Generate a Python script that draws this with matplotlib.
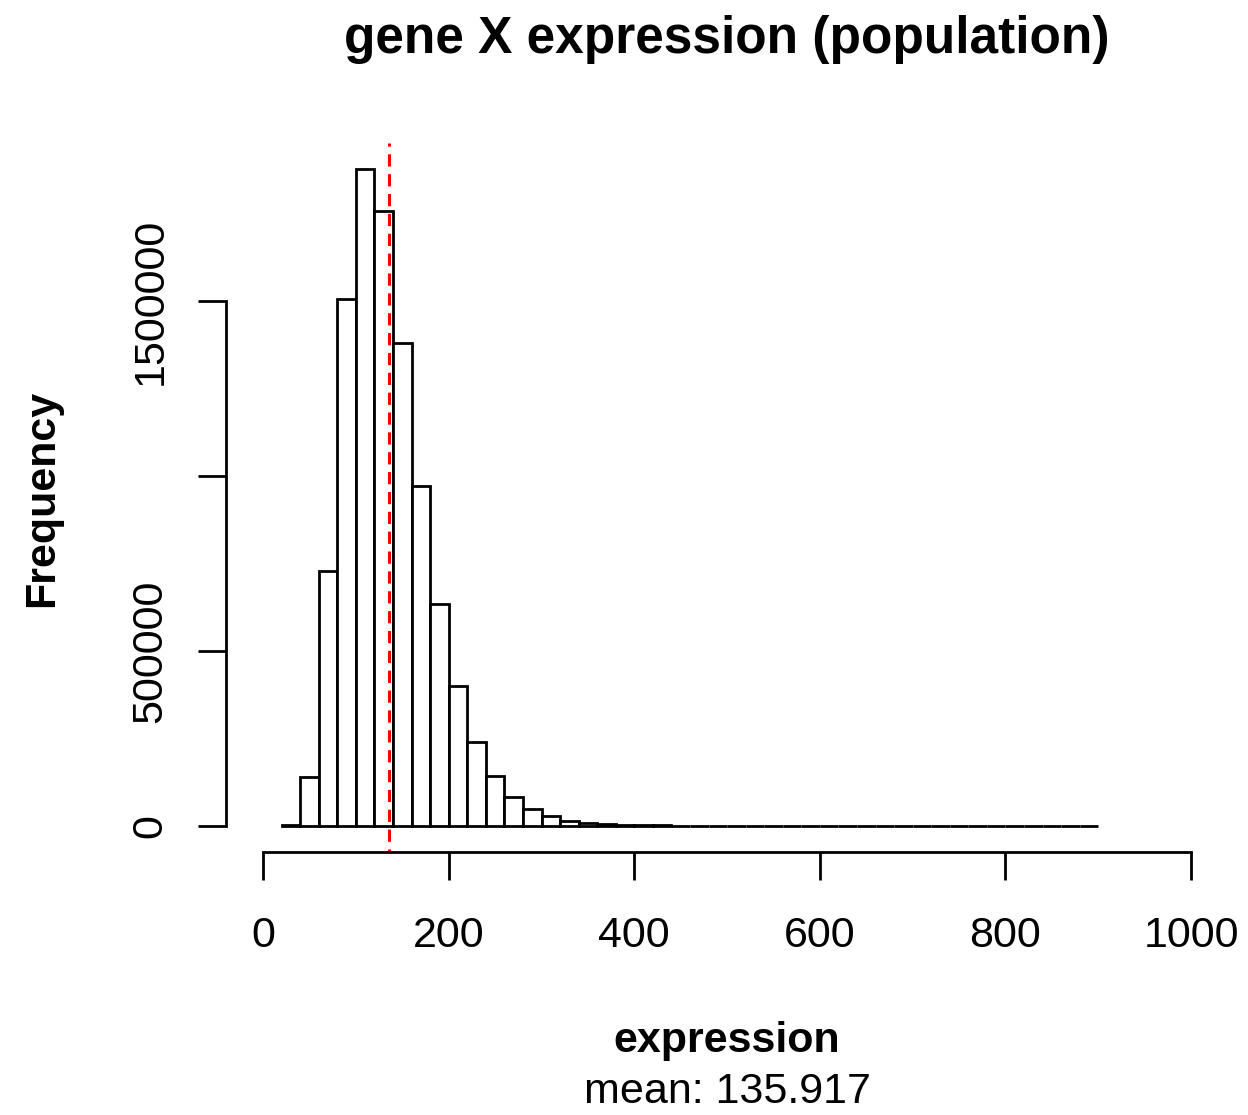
import matplotlib
matplotlib.use("Agg")
import matplotlib.pyplot as plt
import numpy as np

plt.rcParams['font.family'] = ['Liberation Sans', 'DejaVu Sans']

# histogram breaks (20 wide, 20..900) and counts
breaks = np.arange(20, 901, 20)
counts = [3000, 138000, 729000, 1505000, 1877000, 1758000, 1379000, 971000,
          634000, 399000, 240000, 143000, 83000, 49000, 28000, 14000,
          8000, 4500, 2600, 1500, 900, 500, 300, 200, 120, 80, 50,
          30, 20, 15, 10, 8, 6, 5, 4, 3, 3, 2, 2, 2, 1, 1, 1, 1]
mean_val = 135.917
x_ticks = [0, 200, 400, 600, 800, 1000]
y_ticks = [0, 500000, 1000000, 1500000]
y_labels = ["0", "500000", "", "1500000"]

fig = plt.figure(figsize=(12.48, 11.15), dpi=100)
ax = fig.add_axes([0.1811, 0.2359, 0.803, 0.6359])

ax.bar(breaks[:-1], counts, width=20, align='edge', facecolor='white',
       edgecolor='black', linewidth=2)
ax.axvline(mean_val, color='red', linestyle=(3, (4, 2.5)), linewidth=2.2)

ymax = max(counts)
ax.set_xlim(-40, 1040)
ax.set_ylim(-0.04 * ymax, 1.04 * ymax)

for s in ['top', 'right']:
    ax.spines[s].set_visible(False)
ax.spines['bottom'].set_bounds(0, 1000)
ax.spines['left'].set_bounds(0, 1500000)
ax.spines['bottom'].set_linewidth(2)
ax.spines['left'].set_linewidth(2)

ax.set_xticks(x_ticks)
ax.set_xticklabels([str(v) for v in x_ticks])
ax.set_yticks(y_ticks)
ax.set_yticklabels(y_labels, rotation=90, va='center')
ax.tick_params(axis='both', direction='out', length=20, width=2, labelsize=31)
ax.tick_params(axis='x', pad=26)
ax.tick_params(axis='y', pad=20)

fig.text(0.5825, 0.965, "gene X expression (population)", ha='center',
         va='center', fontsize=37, fontweight='bold')
fig.text(0.5825, 0.066, "expression", ha='center', va='center',
         fontsize=31, fontweight='bold')
fig.text(0.5825, 0.021, "mean: 135.917", ha='center', va='center',
         fontsize=31)
fig.text(0.034, 0.553, "Frequency", ha='center', va='center',
         fontsize=31, fontweight='bold', rotation=90)

fig.savefig("out.png", dpi=100)
